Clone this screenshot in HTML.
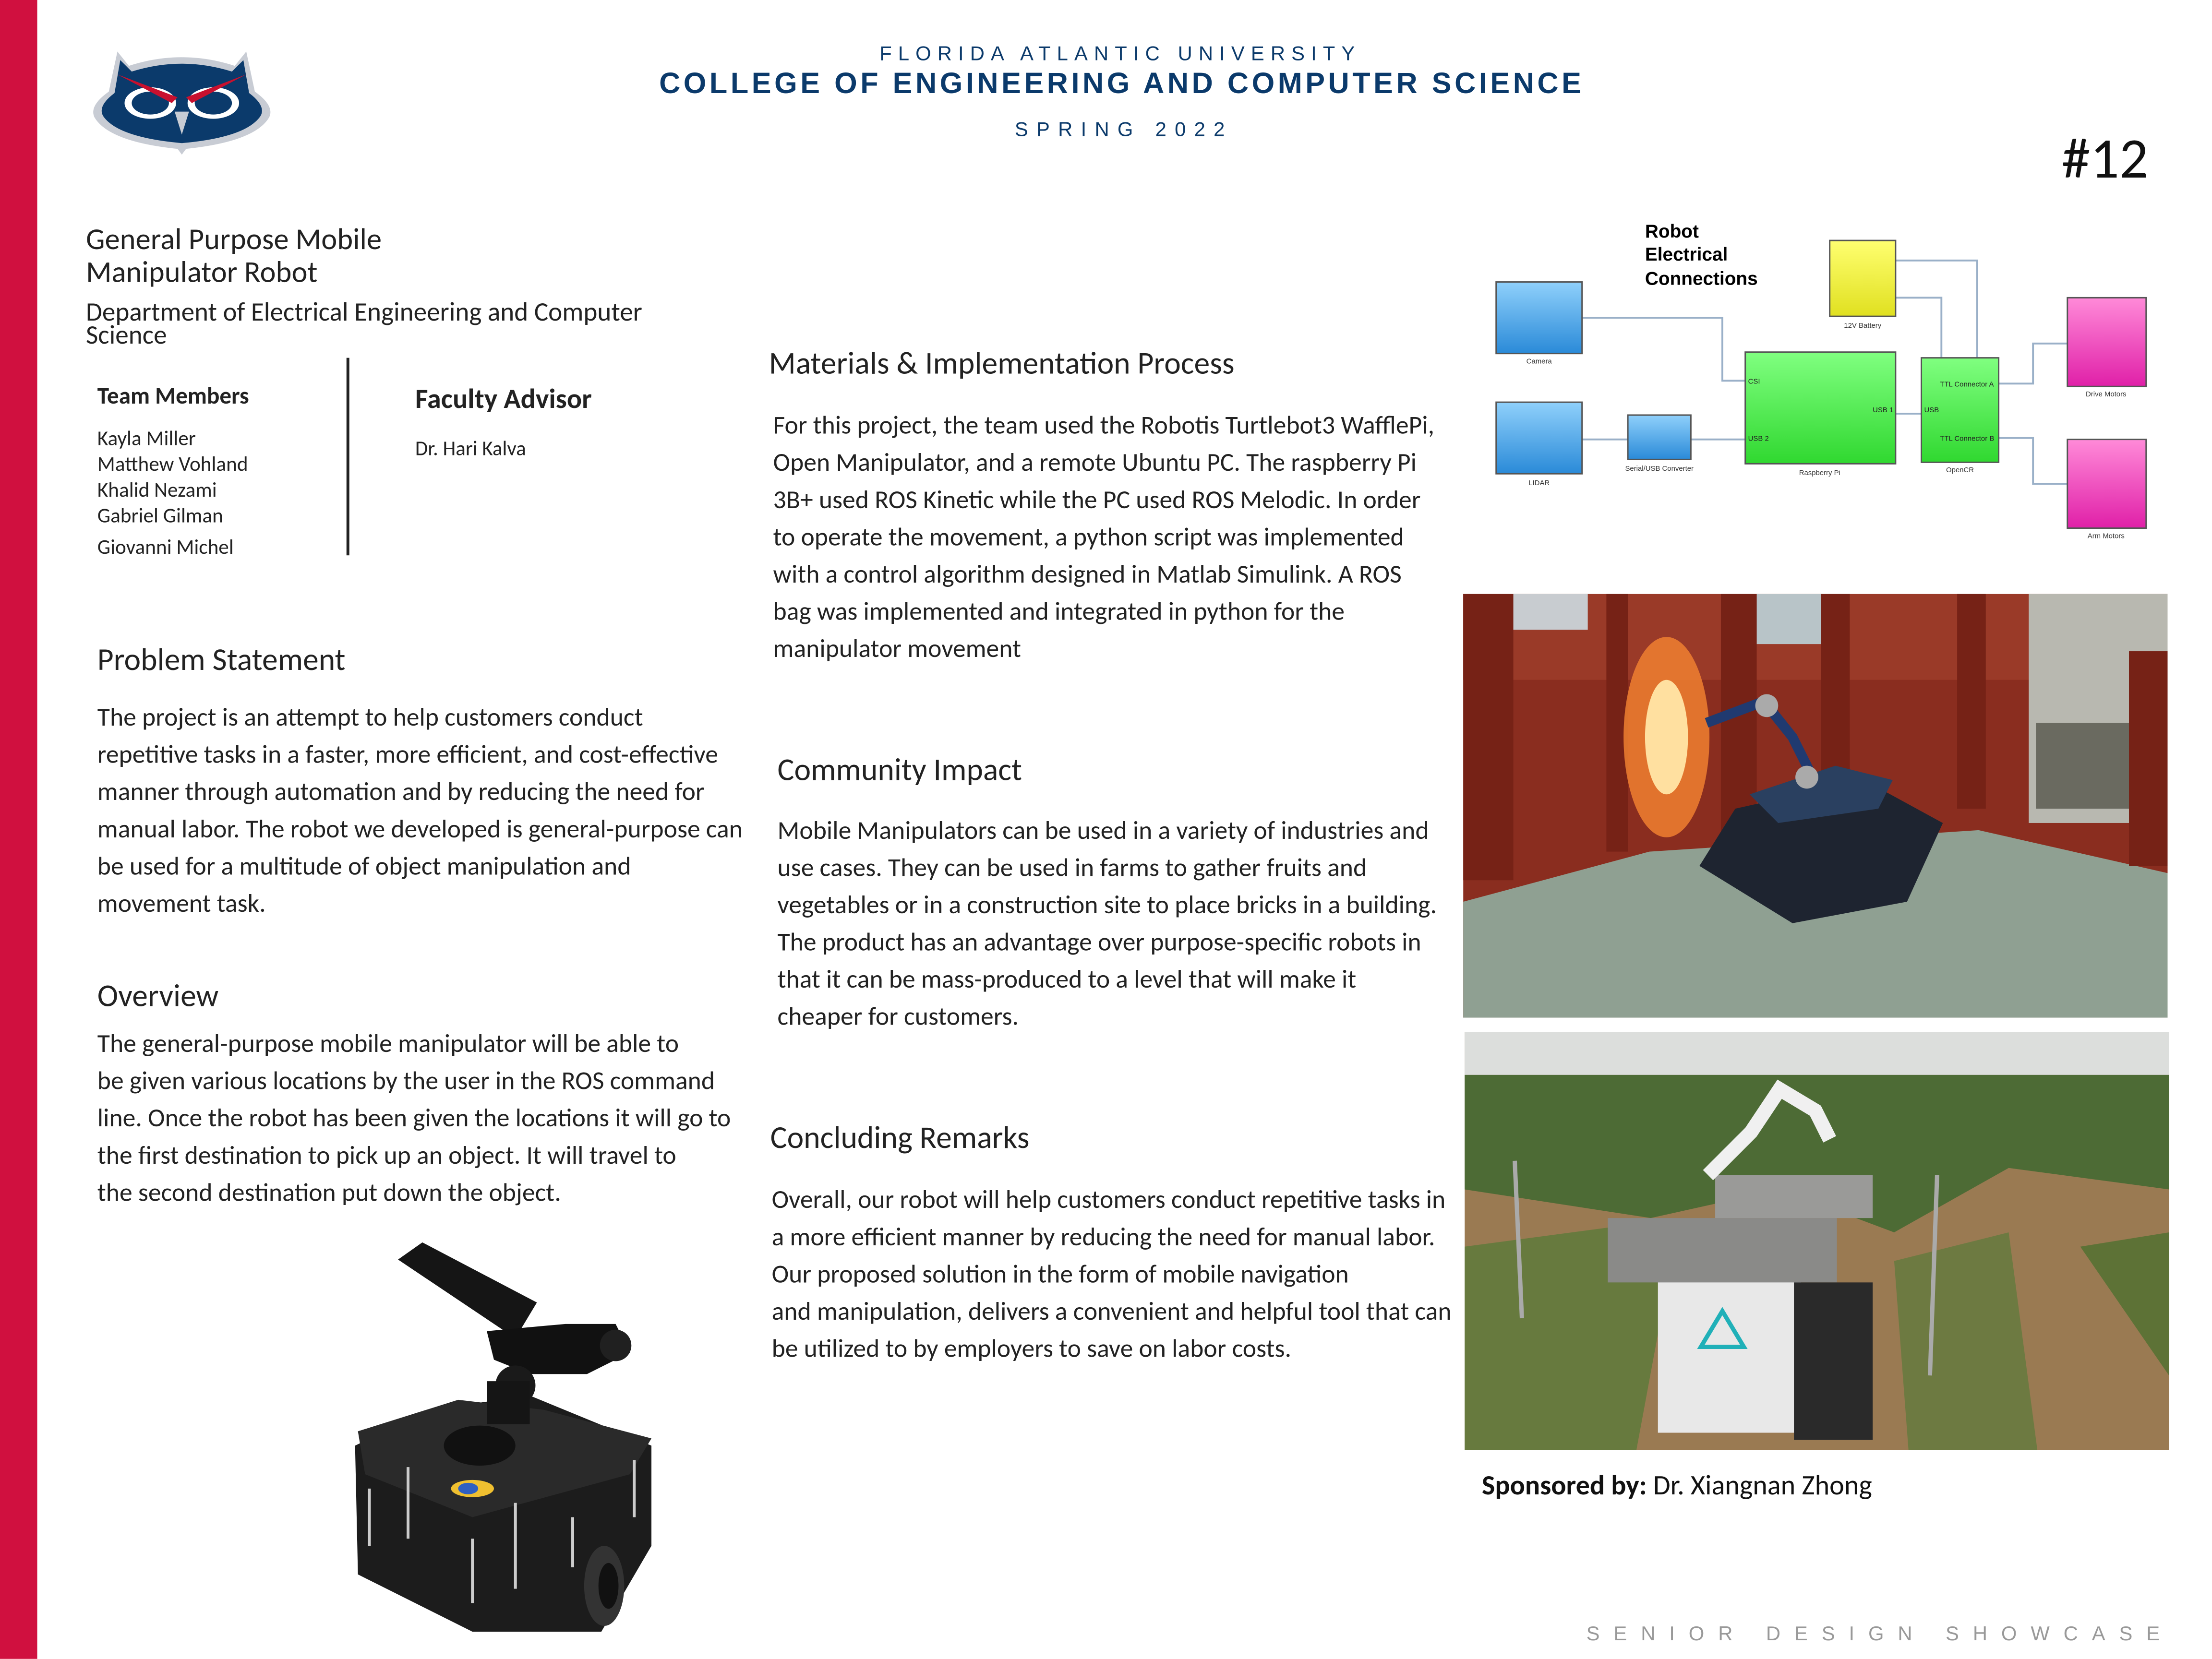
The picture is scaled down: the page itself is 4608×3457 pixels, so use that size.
<!DOCTYPE html>
<html><head><meta charset="utf-8"><style>
html,body{margin:0;padding:0;background:#fff;}
body{width:4608px;height:3456px;overflow:hidden;position:relative;}
#s{position:absolute;left:0;top:0;width:1545px;height:1159px;transform:scale(2.98252);transform-origin:0 0;font-family:"Liberation Sans",sans-serif;color:#222;}
.a{position:absolute;white-space:nowrap;}
.c{font-family:"Carlito","Liberation Sans",sans-serif;}
.h{font-size:22px;color:#222;}
.b{font-size:18px;line-height:26px;color:#222;}
.n{color:#0b3a6b;font-weight:bold;}
</style></head><body><div id="s">
<div class="a" style="left:0;top:0;width:26px;height:1159px;background:#d0103f"></div>
<svg class="a" style="left:60px;top:34px" width="135" height="75" viewBox="0 0 135 75">
<path d="M22 2 L30 12 Q67 0 104 12 L112 2 L118 30 Q132 40 128 48 Q118 65 70 70 L67 74 L64 70 Q16 65 6 48 Q2 40 16 30 Z" fill="#c8ccd4"/>
<path d="M24 8 L32 16 Q67 5 102 16 L110 8 L114 31 Q126 40 122 47 Q112 62 67 66 Q22 62 12 47 Q8 40 20 31 Z" fill="#0b3a6b"/>
<ellipse cx="45" cy="38" rx="18" ry="11" fill="#fff"/><ellipse cx="89" cy="38" rx="18" ry="11" fill="#fff"/>
<ellipse cx="45" cy="38" rx="13" ry="8" fill="#0b3a6b"/><ellipse cx="89" cy="38" rx="13" ry="8" fill="#0b3a6b"/>
<path d="M22 18 L64 34 L60 38 Z" fill="#c8102e"/><path d="M112 18 L70 34 L74 38 Z" fill="#c8102e"/>
<path d="M62 44 L67 60 L72 44 Z" fill="#c8ccd4"/>
</svg>
<div class="a n" style="left:0;width:1565px;text-align:center;top:29px;font-size:14px;letter-spacing:4.4px;font-weight:normal">FLORIDA ATLANTIC UNIVERSITY</div>
<div class="a n" style="left:0;width:1567px;text-align:center;top:47px;font-size:20.5px;letter-spacing:2.2px">COLLEGE OF ENGINEERING AND COMPUTER SCIENCE</div>
<div class="a n" style="left:0;width:1570px;text-align:center;top:82px;font-size:14px;letter-spacing:5.8px;font-weight:normal">SPRING 2022</div>
<div class="a c" style="left:1440px;top:86px;font-size:40px;color:#111">#12</div>

<div class="a c" style="left:60px;top:156px;font-size:21px;line-height:23px">General Purpose Mobile<br>Manipulator Robot</div>
<div class="a c" style="left:60px;top:210px;font-size:18.5px;line-height:16px">Department of Electrical Engineering and Computer<br>Science</div>
<div class="a c" style="left:68px;top:267px;font-size:16.5px;font-weight:bold">Team Members</div>
<div class="a c" style="left:68px;top:297px;font-size:14.5px;line-height:18px">Kayla Miller<br>Matthew Vohland<br>Khalid Nezami<br>Gabriel Gilman</div>
<div class="a c" style="left:68px;top:373px;font-size:14.5px">Giovanni Michel</div>
<div class="a" style="left:242px;top:250px;width:2px;height:138px;background:#222"></div>
<div class="a c" style="left:290px;top:267px;font-size:19.5px;font-weight:bold">Faculty Advisor</div>
<div class="a c" style="left:290px;top:304px;font-size:14.4px">Dr. Hari Kalva</div>

<div class="a c h" style="left:68px;top:447px">Problem Statement</div>
<div class="a c b" style="left:68px;top:488px">The project is an attempt to help customers conduct<br>repetitive tasks in a faster, more efficient, and cost-effective<br>manner through automation and by reducing the need for<br>manual labor. The robot we developed is general-purpose can<br>be used for a multitude of object manipulation and<br>movement task.</div>
<div class="a c h" style="left:68px;top:682px">Overview</div>
<div class="a c b" style="left:68px;top:716px">The general-purpose mobile manipulator will be able to<br>be given various locations by the user in the ROS command<br>line. Once the robot has been given the locations it will go to<br>the first destination to pick up an object. It will travel to<br>the second destination put down the object.</div>

<div class="a c h" style="left:537px;top:240px">Materials &amp; Implementation Process</div>
<div class="a c b" style="left:540px;top:284px">For this project, the team used the Robotis Turtlebot3 WafflePi,<br>Open Manipulator, and a remote Ubuntu PC. The raspberry Pi<br>3B+ used ROS Kinetic while the PC used ROS Melodic. In order<br>to operate the movement, a python script was implemented<br>with a control algorithm designed in Matlab Simulink. A ROS<br>bag was implemented and integrated in python for the<br>manipulator movement</div>
<div class="a c h" style="left:543px;top:524px">Community Impact</div>
<div class="a c b" style="left:543px;top:567px">Mobile Manipulators can be used in a variety of industries and<br>use cases. They can be used in farms to gather fruits and<br>vegetables or in a construction site to place bricks in a building.<br>The product has an advantage over purpose-specific robots in<br>that it can be mass-produced to a level that will make it<br>cheaper for customers.</div>
<div class="a c h" style="left:538px;top:781px">Concluding Remarks</div>
<div class="a c b" style="left:539px;top:825px">Overall, our robot will help customers conduct repetitive tasks in<br>a more efficient manner by reducing the need for manual labor.<br>Our proposed solution in the form of mobile navigation<br>and manipulation, delivers a convenient and helpful tool that can<br>be utilized to by employers to save on labor costs.</div>

<!-- robot -->
<svg class="a" style="left:240px;top:860px" width="230" height="290" viewBox="240 860 230 290">
<path d="M248 1010 L300 985 L370 975 L455 1010 L455 1080 L420 1140 L330 1140 L250 1100 Z" fill="#1c1c1c"/>
<path d="M250 1000 L320 978 L380 985 L455 1005 L440 1030 L330 1060 L255 1030 Z" fill="#2a2a2a"/>
<ellipse cx="422" cy="1108" rx="14" ry="28" fill="#333"/><ellipse cx="425" cy="1108" rx="7" ry="16" fill="#111"/>
<ellipse cx="330" cy="1040" rx="15" ry="6" fill="#f0c030"/><ellipse cx="327" cy="1040" rx="7" ry="4" fill="#3060c0"/>
<g stroke="#ccc" stroke-width="2"><line x1="285" y1="1025" x2="285" y2="1075"/><line x1="330" y1="1075" x2="330" y2="1120"/><line x1="360" y1="1050" x2="360" y2="1110"/><line x1="400" y1="1060" x2="400" y2="1095"/><line x1="443" y1="1020" x2="443" y2="1060"/><line x1="258" y1="1040" x2="258" y2="1080"/></g>
<path d="M278 880 L295 868 L375 910 L360 935 Z" fill="#151515"/>
<path d="M340 930 L395 925 L430 925 L440 945 L410 960 L370 960 L345 950 Z" fill="#111"/>
<circle cx="430" cy="940" r="11" fill="#202020"/><circle cx="360" cy="968" r="14" fill="#1a1a1a"/>
<rect x="340" y="965" width="30" height="30" fill="#151515"/>
<ellipse cx="335" cy="1010" rx="25" ry="14" fill="#111"/>
</svg>

<!-- diagram -->
<svg class="a" style="left:1030px;top:145px" width="490" height="245" viewBox="1030 145 490 245" font-family="Liberation Sans, sans-serif">
<defs>
<linearGradient id="bl" x1="0" y1="0" x2="0" y2="1"><stop offset="0" stop-color="#8fd0fb"/><stop offset="1" stop-color="#2a8ad8"/></linearGradient>
<linearGradient id="gr" x1="0" y1="0" x2="0" y2="1"><stop offset="0" stop-color="#80ff80"/><stop offset="1" stop-color="#30d830"/></linearGradient>
<linearGradient id="ye" x1="0" y1="0" x2="0" y2="1"><stop offset="0" stop-color="#ffff70"/><stop offset="1" stop-color="#e0e020"/></linearGradient>
<linearGradient id="pk" x1="0" y1="0" x2="0" y2="1"><stop offset="0" stop-color="#ff8ad8"/><stop offset="1" stop-color="#e020a8"/></linearGradient>
</defs>
<text x="1149" y="166" font-size="13" font-weight="bold">Robot</text>
<text x="1149" y="182" font-size="13" font-weight="bold">Electrical</text>
<text x="1149" y="199" font-size="13" font-weight="bold">Connections</text>
<g fill="none" stroke="#9ab0c8" stroke-width="1.3">
<polyline points="1105,222 1203,222 1203,266 1219,266"/>
<line x1="1105" y1="307" x2="1137" y2="307"/><line x1="1181" y1="307" x2="1219" y2="307"/>
<line x1="1324" y1="289" x2="1342" y2="289"/>
<polyline points="1324,182 1381,182 1381,250"/>
<polyline points="1324,208 1356,208 1356,250"/>
<polyline points="1396,268 1420,268 1420,240 1444,240"/>
<polyline points="1396,306 1420,306 1420,338 1444,338"/>
</g>
<g stroke="#555" stroke-width="1">
<rect x="1045" y="197" width="60" height="50" fill="url(#bl)"/>
<rect x="1045" y="281" width="60" height="50" fill="url(#bl)"/>
<rect x="1137" y="290" width="44" height="31" fill="url(#bl)"/>
<rect x="1219" y="246" width="105" height="78" fill="url(#gr)"/>
<rect x="1342" y="250" width="54" height="73" fill="url(#gr)"/>
<rect x="1278" y="168" width="46" height="53" fill="url(#ye)"/>
<rect x="1444" y="208" width="55" height="62" fill="url(#pk)"/>
<rect x="1444" y="307" width="55" height="62" fill="url(#pk)"/>
</g>
<g font-size="5" fill="#333" text-anchor="middle">
<text x="1075" y="254">Camera</text><text x="1075" y="339">LIDAR</text><text x="1159" y="329">Serial/USB Converter</text>
<text x="1271" y="332">Raspberry Pi</text><text x="1301" y="229">12V Battery</text><text x="1369" y="330">OpenCR</text>
<text x="1471" y="277">Drive Motors</text><text x="1471" y="376">Arm Motors</text>
</g>
<g font-size="5" fill="#222">
<text x="1221" y="268">CSI</text><text x="1221" y="308">USB 2</text><text x="1308" y="288">USB 1</text><text x="1344" y="288">USB</text>
<text x="1355" y="270">TTL Connector A</text><text x="1355" y="308">TTL Connector B</text>
</g>
</svg>

<!-- photo 1 -->
<svg class="a" style="left:1022px;top:415px" width="492" height="296" viewBox="0 0 492 296">
<rect width="492" height="296" fill="#8a2d1f"/>
<rect x="0" y="0" width="492" height="60" fill="#9a3a28"/>
<rect x="32" y="0" width="55" height="25" fill="#c8ccd0"/><rect x="205" y="0" width="50" height="35" fill="#b8c4c8"/>
<rect x="395" y="0" width="97" height="160" fill="#b8b8b0"/><rect x="400" y="90" width="90" height="60" fill="#6a6a60"/>
<path d="M0 215 L130 180 L360 165 L492 195 L492 296 L0 296 Z" fill="#8fa092"/>
<g fill="#762216"><rect x="0" y="0" width="35" height="200"/><rect x="100" y="0" width="15" height="180"/><rect x="180" y="0" width="25" height="170"/><rect x="250" y="0" width="20" height="140"/><rect x="345" y="0" width="20" height="150"/><rect x="465" y="40" width="27" height="150"/></g>
<ellipse cx="142" cy="100" rx="30" ry="70" fill="#f08030" opacity="0.85"/><ellipse cx="142" cy="100" rx="15" ry="40" fill="#ffe0a0"/>
<path d="M165 190 L190 150 L280 130 L335 160 L310 215 L230 230 Z" fill="#1e2430"/>
<path d="M200 140 L260 120 L300 130 L290 150 L220 160 Z" fill="#2a4060"/>
<path d="M170 90 L210 75 L230 100 L245 130" stroke="#203a70" stroke-width="7" fill="none"/>
<circle cx="212" cy="78" r="8" fill="#aaa"/><circle cx="240" cy="128" r="8" fill="#aaa"/>
</svg>

<!-- photo 2 -->
<svg class="a" style="left:1023px;top:721px" width="492" height="292" viewBox="0 0 492 292">
<rect width="492" height="292" fill="#9a7a52"/>
<rect width="492" height="30" fill="#dcdedc"/>
<path d="M0 30 L492 30 L492 110 L380 95 L300 140 L220 110 L130 130 L0 110 Z" fill="#4d6b35"/>
<path d="M0 150 L150 130 L120 292 L0 292 Z" fill="#5a7a3a" opacity="0.8"/>
<path d="M300 160 L380 140 L400 292 L310 292 Z" fill="#5a7a3a" opacity="0.7"/>
<path d="M430 150 L492 140 L492 240 Z" fill="#4e7030" opacity="0.8"/>
<rect x="135" y="140" width="100" height="140" fill="#e8e8e8"/>
<rect x="100" y="130" width="160" height="45" fill="#8a8a88"/>
<rect x="175" y="100" width="110" height="30" fill="#9a9a98"/>
<path d="M170 100 L200 70 L220 40 L245 55 L255 75" stroke="#f0f0f0" stroke-width="10" fill="none"/>
<rect x="230" y="175" width="55" height="110" fill="#2a2a2a"/>
<path d="M165 220 L180 195 L195 220 Z" fill="none" stroke="#20b0b8" stroke-width="3"/>
<line x1="35" y1="90" x2="40" y2="200" stroke="#aaa" stroke-width="3"/><line x1="330" y1="100" x2="325" y2="240" stroke="#aaa" stroke-width="3"/>
</svg>

<div class="a c" style="left:1035px;top:1026px;font-size:19.5px;color:#111"><b>Sponsored by:</b> Dr. Xiangnan Zhong</div>
<div class="a" style="left:1108px;top:1133px;font-size:14px;letter-spacing:9.7px;color:#999">SENIOR DESIGN SHOWCASE</div>
</div></body></html>
